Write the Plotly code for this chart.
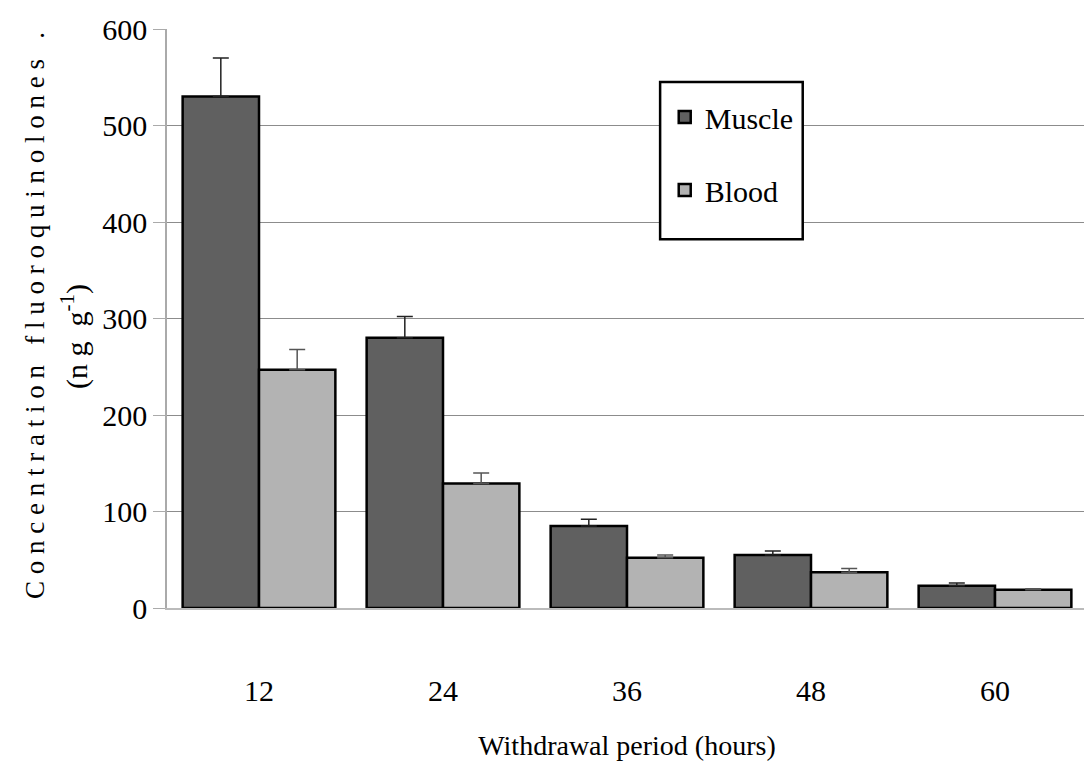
import plotly.graph_objects as go

categories = ["12", "24", "36", "48", "60"]
muscle = [530, 280, 85, 55, 23]
muscle_err = [40, 22, 7, 4, 3]
blood = [247, 129, 52, 37, 19]
blood_err = [21, 11, 3, 4, 1]
y_ticks = [0, 100, 200, 300, 400, 500, 600]

FONT = "Liberation Serif, Times New Roman, serif"

fig = go.Figure()
fig.add_trace(go.Bar(
    x=categories, y=muscle, name="Muscle", legendgroup="m",
    marker=dict(color="#606060", line=dict(color="black", width=2.5)),
    error_y=dict(type="data", array=muscle_err, arrayminus=[0]*len(muscle_err),
                 symmetric=False, color="#222222", thickness=1.5, width=8),
))
fig.add_trace(go.Bar(
    x=categories, y=blood, name="Blood", legendgroup="b",
    marker=dict(color="#b3b3b3", line=dict(color="black", width=2.5)),
    error_y=dict(type="data", array=blood_err, arrayminus=[0]*len(blood_err),
                 symmetric=False, color="#555555", thickness=1.5, width=8),
))

fig.update_layout(
    width=1092, height=778,
    margin=dict(l=159, r=13, t=21, b=178),
    paper_bgcolor="white", plot_bgcolor="white",
    barmode="group", bargap=0.17, bargroupgap=0,
    font=dict(family=FONT, size=30, color="black"),
    showlegend=True,
    legend=dict(
        x=0.541, y=0.893, xanchor="left", yanchor="top",
        bgcolor="rgba(0,0,0,0)", borderwidth=0,
        font=dict(family=FONT, size=30, color="black"),
        tracegroupgap=31, traceorder="grouped",
    ),
    xaxis=dict(
        showgrid=False, ticks="", showline=True, linecolor="#bbbbbb", linewidth=2,
        tickfont=dict(family=FONT, size=30), ticklabelstandoff=55,
        title=dict(text="Withdrawal period (hours)", font=dict(family=FONT, size=28), standoff=29),
    ),
    yaxis=dict(
        range=[0, 600], tickvals=y_ticks, showgrid=True, gridcolor="#8c8c8c", gridwidth=1,
        showline=True, linecolor="#aaaaaa", linewidth=1.5,
        ticks="outside", ticklen=12, tickcolor="#aaaaaa",
        tickfont=dict(family=FONT, size=30), zeroline=False, automargin=False,
    ),
)

fig.add_shape(
    type="rect", xref="paper", yref="paper",
    x0=0.536, x1=0.691, y0=0.637, y1=0.9085,
    fillcolor="white", line=dict(color="black", width=2.5), layer="above",
)

fig.add_annotation(
    xref="paper", yref="paper", x=-0.1435, y=0.506, xanchor="center", yanchor="middle",
    textangle=-90, showarrow=False,
    text="C o n c e n t r a t i o n   f l u o r o q u i n o l o n e s   .",
    font=dict(family=FONT, size=27),
)
fig.add_annotation(
    xref="paper", yref="paper", x=-0.101, y=0.468, xanchor="center", yanchor="middle",
    textangle=-90, showarrow=False,
    text="(n g  g<sup>-1</sup>)",
    font=dict(family=FONT, size=30),
)

fig.write_html("out.html")
